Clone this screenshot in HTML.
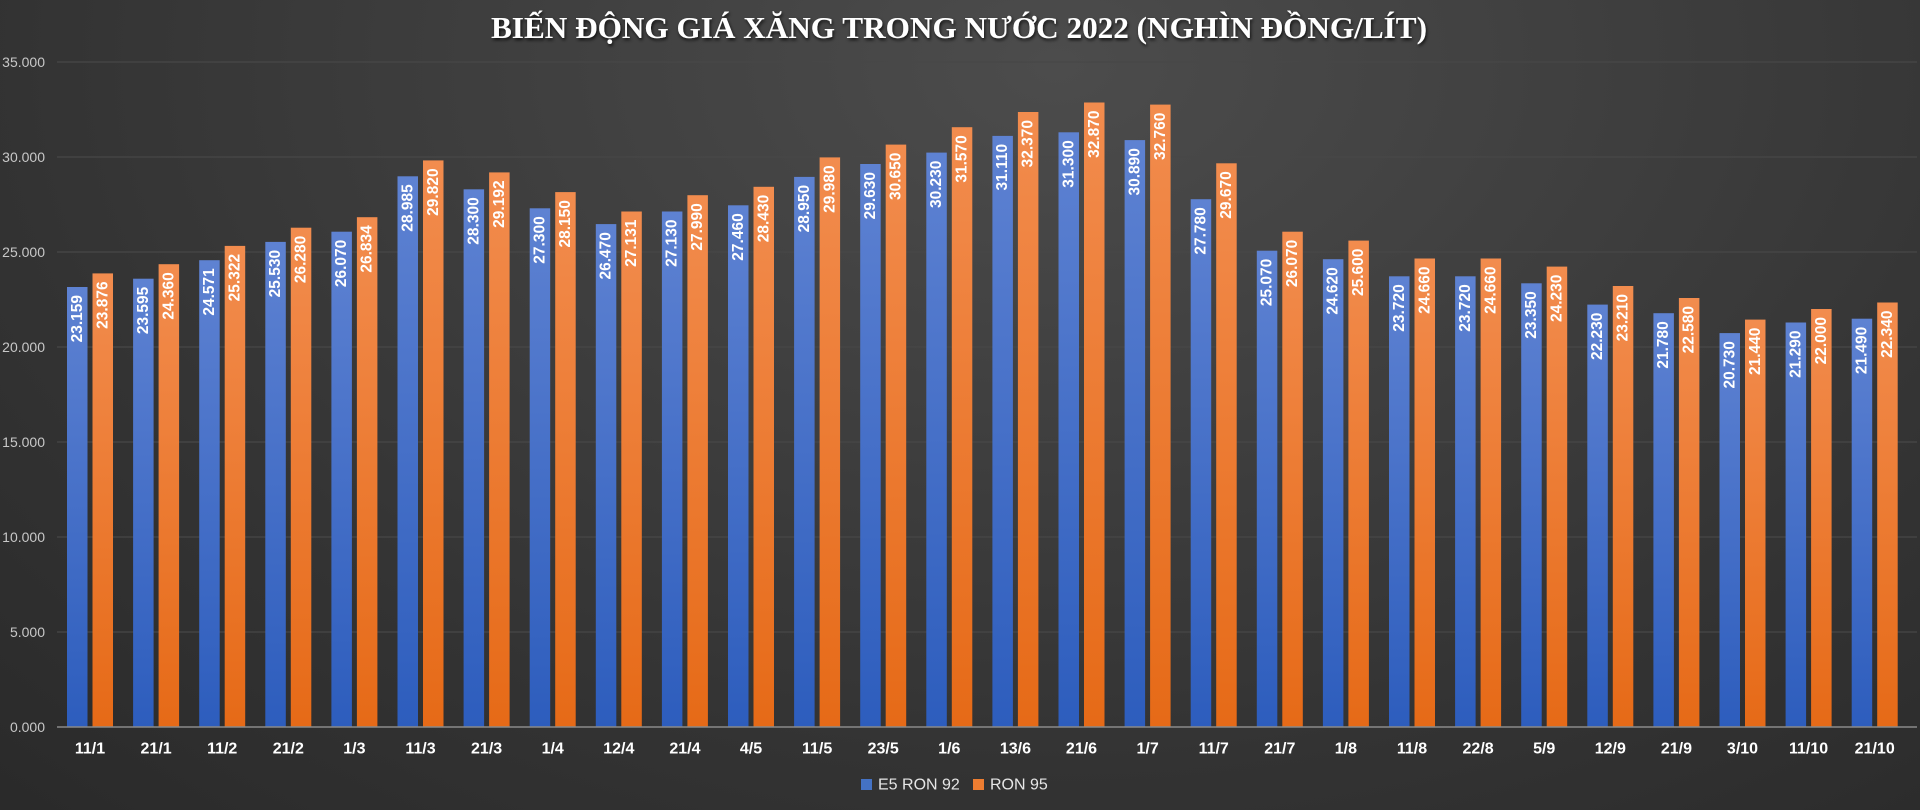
<!DOCTYPE html>
<html><head><meta charset="utf-8"><style>
html,body{margin:0;padding:0;width:1920px;height:810px;overflow:hidden;background:#2b2b2b}
svg{display:block}
</style></head><body>
<svg width="1920" height="810" viewBox="0 0 1920 810" xmlns="http://www.w3.org/2000/svg" font-family="'Liberation Sans', sans-serif">
<defs>
<radialGradient id="bg" cx="0.55" cy="0.05" r="0.9" gradientTransform="scale(1,1.6)">
<stop offset="0" stop-color="#4c4c4c"/><stop offset="0.6" stop-color="#333"/><stop offset="1" stop-color="#262626"/></radialGradient>
<linearGradient id="gb" x1="0" y1="0" x2="0" y2="1"><stop offset="0" stop-color="#5e82d2"/><stop offset="1" stop-color="#2d5dbd"/></linearGradient>
<linearGradient id="go" x1="0" y1="0" x2="0" y2="1"><stop offset="0" stop-color="#f28c4e"/><stop offset="1" stop-color="#e66a17"/></linearGradient>
<filter id="ts"><feDropShadow dx="1" dy="2" stdDeviation="1.5" flood-color="#000" flood-opacity="0.8"/></filter>
</defs>
<rect width="1920" height="810" fill="url(#bg)"/>
<text x="959" y="38" text-anchor="middle" font-family="'Liberation Serif', serif" font-weight="bold" font-size="31" fill="#fff" textLength="936" lengthAdjust="spacingAndGlyphs" filter="url(#ts)">BIẾN ĐỘNG GIÁ XĂNG TRONG NƯỚC 2022 (NGHÌN ĐỒNG/LÍT)</text>
<g stroke="#474747" stroke-width="1.2">
<line x1="57" y1="62" x2="1917" y2="62"/><line x1="57" y1="157" x2="1917" y2="157"/><line x1="57" y1="252" x2="1917" y2="252"/><line x1="57" y1="347" x2="1917" y2="347"/><line x1="57" y1="442" x2="1917" y2="442"/><line x1="57" y1="537" x2="1917" y2="537"/><line x1="57" y1="632" x2="1917" y2="632"/>
</g>
<g font-size="14" fill="#c8c8c8" text-anchor="end" dominant-baseline="central">
<text x="45" y="62">35.000</text><text x="45" y="157">30.000</text><text x="45" y="252">25.000</text><text x="45" y="347">20.000</text><text x="45" y="442">15.000</text><text x="45" y="537">10.000</text><text x="45" y="632">5.000</text><text x="45" y="727">0.000</text>
</g>
<g id="bars" font-size="15.5" font-weight="bold" fill="#fff">
<g transform="translate(90,0)"><rect x="-23" y="287.0" width="20.5" height="440.0" fill="url(#gb)"/><rect x="2.5" y="273.4" width="20.5" height="453.6" fill="url(#go)"/><text transform="translate(-12.75,295) rotate(-90)" text-anchor="end" dominant-baseline="central">23.159</text><text transform="translate(12.75,281.4) rotate(-90)" text-anchor="end" dominant-baseline="central">23.876</text></g>
<g transform="translate(156.1,0)"><rect x="-23" y="278.7" width="20.5" height="448.3" fill="url(#gb)"/><rect x="2.5" y="264.2" width="20.5" height="462.8" fill="url(#go)"/><text transform="translate(-12.75,286.7) rotate(-90)" text-anchor="end" dominant-baseline="central">23.595</text><text transform="translate(12.75,272.2) rotate(-90)" text-anchor="end" dominant-baseline="central">24.360</text></g>
<g transform="translate(222.2,0)"><rect x="-23" y="260.2" width="20.5" height="466.8" fill="url(#gb)"/><rect x="2.5" y="245.9" width="20.5" height="481.1" fill="url(#go)"/><text transform="translate(-12.75,268.2) rotate(-90)" text-anchor="end" dominant-baseline="central">24.571</text><text transform="translate(12.75,253.9) rotate(-90)" text-anchor="end" dominant-baseline="central">25.322</text></g>
<g transform="translate(288.3,0)"><rect x="-23" y="241.9" width="20.5" height="485.1" fill="url(#gb)"/><rect x="2.5" y="227.7" width="20.5" height="499.3" fill="url(#go)"/><text transform="translate(-12.75,249.9) rotate(-90)" text-anchor="end" dominant-baseline="central">25.530</text><text transform="translate(12.75,235.7) rotate(-90)" text-anchor="end" dominant-baseline="central">26.280</text></g>
<g transform="translate(354.4,0)"><rect x="-23" y="231.7" width="20.5" height="495.3" fill="url(#gb)"/><rect x="2.5" y="217.2" width="20.5" height="509.8" fill="url(#go)"/><text transform="translate(-12.75,239.7) rotate(-90)" text-anchor="end" dominant-baseline="central">26.070</text><text transform="translate(12.75,225.2) rotate(-90)" text-anchor="end" dominant-baseline="central">26.834</text></g>
<g transform="translate(420.5,0)"><rect x="-23" y="176.3" width="20.5" height="550.7" fill="url(#gb)"/><rect x="2.5" y="160.4" width="20.5" height="566.6" fill="url(#go)"/><text transform="translate(-12.75,184.3) rotate(-90)" text-anchor="end" dominant-baseline="central">28.985</text><text transform="translate(12.75,168.4) rotate(-90)" text-anchor="end" dominant-baseline="central">29.820</text></g>
<g transform="translate(486.6,0)"><rect x="-23" y="189.3" width="20.5" height="537.7" fill="url(#gb)"/><rect x="2.5" y="172.4" width="20.5" height="554.6" fill="url(#go)"/><text transform="translate(-12.75,197.3) rotate(-90)" text-anchor="end" dominant-baseline="central">28.300</text><text transform="translate(12.75,180.4) rotate(-90)" text-anchor="end" dominant-baseline="central">29.192</text></g>
<g transform="translate(552.7,0)"><rect x="-23" y="208.3" width="20.5" height="518.7" fill="url(#gb)"/><rect x="2.5" y="192.1" width="20.5" height="534.9" fill="url(#go)"/><text transform="translate(-12.75,216.3) rotate(-90)" text-anchor="end" dominant-baseline="central">27.300</text><text transform="translate(12.75,200.1) rotate(-90)" text-anchor="end" dominant-baseline="central">28.150</text></g>
<g transform="translate(618.8,0)"><rect x="-23" y="224.1" width="20.5" height="502.9" fill="url(#gb)"/><rect x="2.5" y="211.5" width="20.5" height="515.5" fill="url(#go)"/><text transform="translate(-12.75,232.1) rotate(-90)" text-anchor="end" dominant-baseline="central">26.470</text><text transform="translate(12.75,219.5) rotate(-90)" text-anchor="end" dominant-baseline="central">27.131</text></g>
<g transform="translate(684.9,0)"><rect x="-23" y="211.5" width="20.5" height="515.5" fill="url(#gb)"/><rect x="2.5" y="195.2" width="20.5" height="531.8" fill="url(#go)"/><text transform="translate(-12.75,219.5) rotate(-90)" text-anchor="end" dominant-baseline="central">27.130</text><text transform="translate(12.75,203.2) rotate(-90)" text-anchor="end" dominant-baseline="central">27.990</text></g>
<g transform="translate(751,0)"><rect x="-23" y="205.3" width="20.5" height="521.7" fill="url(#gb)"/><rect x="2.5" y="186.8" width="20.5" height="540.2" fill="url(#go)"/><text transform="translate(-12.75,213.3) rotate(-90)" text-anchor="end" dominant-baseline="central">27.460</text><text transform="translate(12.75,194.8) rotate(-90)" text-anchor="end" dominant-baseline="central">28.430</text></g>
<g transform="translate(817.1,0)"><rect x="-23" y="176.9" width="20.5" height="550.1" fill="url(#gb)"/><rect x="2.5" y="157.4" width="20.5" height="569.6" fill="url(#go)"/><text transform="translate(-12.75,184.9) rotate(-90)" text-anchor="end" dominant-baseline="central">28.950</text><text transform="translate(12.75,165.4) rotate(-90)" text-anchor="end" dominant-baseline="central">29.980</text></g>
<g transform="translate(883.2,0)"><rect x="-23" y="164.0" width="20.5" height="563.0" fill="url(#gb)"/><rect x="2.5" y="144.6" width="20.5" height="582.4" fill="url(#go)"/><text transform="translate(-12.75,172) rotate(-90)" text-anchor="end" dominant-baseline="central">29.630</text><text transform="translate(12.75,152.6) rotate(-90)" text-anchor="end" dominant-baseline="central">30.650</text></g>
<g transform="translate(949.3,0)"><rect x="-23" y="152.6" width="20.5" height="574.4" fill="url(#gb)"/><rect x="2.5" y="127.2" width="20.5" height="599.8" fill="url(#go)"/><text transform="translate(-12.75,160.6) rotate(-90)" text-anchor="end" dominant-baseline="central">30.230</text><text transform="translate(12.75,135.2) rotate(-90)" text-anchor="end" dominant-baseline="central">31.570</text></g>
<g transform="translate(1015.4,0)"><rect x="-23" y="135.9" width="20.5" height="591.1" fill="url(#gb)"/><rect x="2.5" y="112.0" width="20.5" height="615.0" fill="url(#go)"/><text transform="translate(-12.75,143.9) rotate(-90)" text-anchor="end" dominant-baseline="central">31.110</text><text transform="translate(12.75,120) rotate(-90)" text-anchor="end" dominant-baseline="central">32.370</text></g>
<g transform="translate(1081.5,0)"><rect x="-23" y="132.3" width="20.5" height="594.7" fill="url(#gb)"/><rect x="2.5" y="102.5" width="20.5" height="624.5" fill="url(#go)"/><text transform="translate(-12.75,140.3) rotate(-90)" text-anchor="end" dominant-baseline="central">31.300</text><text transform="translate(12.75,110.5) rotate(-90)" text-anchor="end" dominant-baseline="central">32.870</text></g>
<g transform="translate(1147.6,0)"><rect x="-23" y="140.1" width="20.5" height="586.9" fill="url(#gb)"/><rect x="2.5" y="104.6" width="20.5" height="622.4" fill="url(#go)"/><text transform="translate(-12.75,148.1) rotate(-90)" text-anchor="end" dominant-baseline="central">30.890</text><text transform="translate(12.75,112.6) rotate(-90)" text-anchor="end" dominant-baseline="central">32.760</text></g>
<g transform="translate(1213.7,0)"><rect x="-23" y="199.2" width="20.5" height="527.8" fill="url(#gb)"/><rect x="2.5" y="163.3" width="20.5" height="563.7" fill="url(#go)"/><text transform="translate(-12.75,207.2) rotate(-90)" text-anchor="end" dominant-baseline="central">27.780</text><text transform="translate(12.75,171.3) rotate(-90)" text-anchor="end" dominant-baseline="central">29.670</text></g>
<g transform="translate(1279.8,0)"><rect x="-23" y="250.7" width="20.5" height="476.3" fill="url(#gb)"/><rect x="2.5" y="231.7" width="20.5" height="495.3" fill="url(#go)"/><text transform="translate(-12.75,258.7) rotate(-90)" text-anchor="end" dominant-baseline="central">25.070</text><text transform="translate(12.75,239.7) rotate(-90)" text-anchor="end" dominant-baseline="central">26.070</text></g>
<g transform="translate(1345.9,0)"><rect x="-23" y="259.2" width="20.5" height="467.8" fill="url(#gb)"/><rect x="2.5" y="240.6" width="20.5" height="486.4" fill="url(#go)"/><text transform="translate(-12.75,267.2) rotate(-90)" text-anchor="end" dominant-baseline="central">24.620</text><text transform="translate(12.75,248.6) rotate(-90)" text-anchor="end" dominant-baseline="central">25.600</text></g>
<g transform="translate(1412,0)"><rect x="-23" y="276.3" width="20.5" height="450.7" fill="url(#gb)"/><rect x="2.5" y="258.5" width="20.5" height="468.5" fill="url(#go)"/><text transform="translate(-12.75,284.3) rotate(-90)" text-anchor="end" dominant-baseline="central">23.720</text><text transform="translate(12.75,266.5) rotate(-90)" text-anchor="end" dominant-baseline="central">24.660</text></g>
<g transform="translate(1478.1,0)"><rect x="-23" y="276.3" width="20.5" height="450.7" fill="url(#gb)"/><rect x="2.5" y="258.5" width="20.5" height="468.5" fill="url(#go)"/><text transform="translate(-12.75,284.3) rotate(-90)" text-anchor="end" dominant-baseline="central">23.720</text><text transform="translate(12.75,266.5) rotate(-90)" text-anchor="end" dominant-baseline="central">24.660</text></g>
<g transform="translate(1544.2,0)"><rect x="-23" y="283.3" width="20.5" height="443.7" fill="url(#gb)"/><rect x="2.5" y="266.6" width="20.5" height="460.4" fill="url(#go)"/><text transform="translate(-12.75,291.3) rotate(-90)" text-anchor="end" dominant-baseline="central">23.350</text><text transform="translate(12.75,274.6) rotate(-90)" text-anchor="end" dominant-baseline="central">24.230</text></g>
<g transform="translate(1610.3,0)"><rect x="-23" y="304.6" width="20.5" height="422.4" fill="url(#gb)"/><rect x="2.5" y="286.0" width="20.5" height="441.0" fill="url(#go)"/><text transform="translate(-12.75,312.6) rotate(-90)" text-anchor="end" dominant-baseline="central">22.230</text><text transform="translate(12.75,294) rotate(-90)" text-anchor="end" dominant-baseline="central">23.210</text></g>
<g transform="translate(1676.4,0)"><rect x="-23" y="313.2" width="20.5" height="413.8" fill="url(#gb)"/><rect x="2.5" y="298.0" width="20.5" height="429.0" fill="url(#go)"/><text transform="translate(-12.75,321.2) rotate(-90)" text-anchor="end" dominant-baseline="central">21.780</text><text transform="translate(12.75,306) rotate(-90)" text-anchor="end" dominant-baseline="central">22.580</text></g>
<g transform="translate(1742.5,0)"><rect x="-23" y="333.1" width="20.5" height="393.9" fill="url(#gb)"/><rect x="2.5" y="319.6" width="20.5" height="407.4" fill="url(#go)"/><text transform="translate(-12.75,341.1) rotate(-90)" text-anchor="end" dominant-baseline="central">20.730</text><text transform="translate(12.75,327.6) rotate(-90)" text-anchor="end" dominant-baseline="central">21.440</text></g>
<g transform="translate(1808.6,0)"><rect x="-23" y="322.5" width="20.5" height="404.5" fill="url(#gb)"/><rect x="2.5" y="309.0" width="20.5" height="418.0" fill="url(#go)"/><text transform="translate(-12.75,330.5) rotate(-90)" text-anchor="end" dominant-baseline="central">21.290</text><text transform="translate(12.75,317) rotate(-90)" text-anchor="end" dominant-baseline="central">22.000</text></g>
<g transform="translate(1874.7,0)"><rect x="-23" y="318.7" width="20.5" height="408.3" fill="url(#gb)"/><rect x="2.5" y="302.5" width="20.5" height="424.5" fill="url(#go)"/><text transform="translate(-12.75,326.7) rotate(-90)" text-anchor="end" dominant-baseline="central">21.490</text><text transform="translate(12.75,310.5) rotate(-90)" text-anchor="end" dominant-baseline="central">22.340</text></g>
</g>
<line x1="57" y1="727" x2="1917" y2="727" stroke="#8a8a8a" stroke-width="1.5"/>
<g font-size="16" font-weight="bold" fill="#fff" text-anchor="middle" dominant-baseline="central">
<text x="90" y="749">11/1</text><text x="156.1" y="749">21/1</text><text x="222.2" y="749">11/2</text><text x="288.3" y="749">21/2</text><text x="354.4" y="749">1/3</text><text x="420.5" y="749">11/3</text><text x="486.6" y="749">21/3</text><text x="552.7" y="749">1/4</text><text x="618.8" y="749">12/4</text><text x="684.9" y="749">21/4</text><text x="751" y="749">4/5</text><text x="817.1" y="749">11/5</text><text x="883.2" y="749">23/5</text><text x="949.3" y="749">1/6</text><text x="1015.4" y="749">13/6</text><text x="1081.5" y="749">21/6</text><text x="1147.6" y="749">1/7</text><text x="1213.7" y="749">11/7</text><text x="1279.8" y="749">21/7</text><text x="1345.9" y="749">1/8</text><text x="1412" y="749">11/8</text><text x="1478.1" y="749">22/8</text><text x="1544.2" y="749">5/9</text><text x="1610.3" y="749">12/9</text><text x="1676.4" y="749">21/9</text><text x="1742.5" y="749">3/10</text><text x="1808.6" y="749">11/10</text><text x="1874.7" y="749">21/10</text>
</g>
<rect x="861" y="779" width="11" height="11" fill="#4472c4"/>
<text x="878" y="785" font-size="16" fill="#e6e6e6" dominant-baseline="central">E5 RON 92</text>
<rect x="973" y="779" width="11" height="11" fill="#ed7d31"/>
<text x="990" y="785" font-size="16" fill="#e6e6e6" dominant-baseline="central">RON 95</text>
</svg>
</body></html>
